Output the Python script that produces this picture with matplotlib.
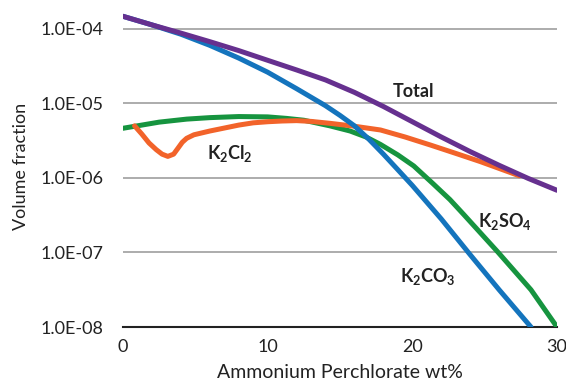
import numpy as np
import matplotlib
matplotlib.use("Agg")
import matplotlib.pyplot as plt
from matplotlib.ticker import FixedLocator, FuncFormatter

plt.rcParams['font.family'] = ['Lato', 'DejaVu Sans']
plt.rcParams['mathtext.default'] = 'regular'

# values (x = wt%, y = volume fraction)
total_x = [0, 2, 4, 6, 8, 10, 12, 14, 16, 18, 20, 22, 24, 26, 28, 30]
total_y = [1.48e-4, 1.135e-4, 8.81e-5, 6.76e-5, 5.13e-5, 3.80e-5, 2.82e-5, 2.07e-5, 1.41e-5, 9.12e-6,
           5.69e-6, 3.55e-6, 2.26e-6, 1.48e-6, 9.89e-7, 6.84e-7]

k2co3_x = [0, 2, 4, 6, 8, 10, 12, 14, 15, 16, 17, 18, 19, 20, 22, 24, 26, 28.2]
k2co3_y = [1.48e-4, 1.135e-4, 8.51e-5, 6.03e-5, 4.07e-5, 2.63e-5, 1.58e-5, 9.33e-6, 6.92e-6, 5.01e-6,
           3.31e-6, 2.09e-6, 1.29e-6, 7.94e-7, 2.82e-7, 9.33e-8, 3.16e-8, 1.0e-8]

k2so4_x = [0, 2.5, 4.4, 6, 8, 10, 11.3, 12.5, 14.3, 15.7, 16.8, 17.8, 19, 20.1, 21.4, 22.6, 23.55, 25.9, 28.2, 30]
k2so4_y = [4.65e-6, 5.62e-6, 6.17e-6, 6.46e-6, 6.68e-6, 6.61e-6, 6.31e-6, 5.96e-6, 5.01e-6, 4.27e-6,
           3.55e-6, 2.82e-6, 2.04e-6, 1.45e-6, 8.5e-7, 5.13e-7, 3.24e-7, 1.02e-7, 3.16e-8, 1.0e-8]

k2cl2_x = [0.8, 1.3, 1.8, 2.3, 2.7, 3.1, 3.5, 3.8, 4.1, 4.4, 4.9, 6, 7, 8, 9, 10, 11, 12, 13,
           14.3, 16, 17.8, 19.5, 21.25, 23, 24.7, 27.4]
k2cl2_y = [5.01e-6, 3.89e-6, 2.95e-6, 2.40e-6, 2.09e-6, 1.95e-6, 2.09e-6, 2.51e-6, 3.02e-6, 3.41e-6,
           3.80e-6, 4.27e-6, 4.68e-6, 5.13e-6, 5.50e-6, 5.69e-6, 5.82e-6, 5.89e-6, 5.75e-6,
           5.42e-6, 4.95e-6, 4.41e-6, 3.55e-6, 2.77e-6, 2.14e-6, 1.66e-6, 1.07e-6]

fig = plt.figure(figsize=(5.66, 3.9), dpi=100)
ax = fig.add_axes([123/566, 63/390, 434/566, 322/390])

lw = 3.6
style = dict(lw=lw, solid_capstyle='round', solid_joinstyle='round')
ax.plot(k2so4_x, k2so4_y, color='#16943f', zorder=3, **style)
ax.plot(k2cl2_x, k2cl2_y, color='#f2632a', zorder=4, **style)
ax.plot(k2co3_x, k2co3_y, color='#1474bd', zorder=5, **style)
ax.plot(total_x, total_y, color='#66308f', zorder=6, **style)

ax.set_yscale('log')
ax.set_xlim(0, 30)
ax.set_ylim(1e-8, 10**-3.678)
ax.yaxis.set_major_locator(FixedLocator([1e-8, 1e-7, 1e-6, 1e-5, 1e-4]))
ax.yaxis.set_minor_locator(FixedLocator([]))
ax.yaxis.set_major_formatter(FuncFormatter(lambda v, p: f"{v:.1E}"))
ax.set_xticks([0, 10, 20, 30])

for v in [1e-7, 1e-6, 1e-5, 1e-4]:
    ax.axhline(v, color='#a6a6a6', lw=1.3, zorder=1)

for s in ['top', 'right', 'left']:
    ax.spines[s].set_visible(False)
ax.spines['bottom'].set_color('#222222')
ax.spines['bottom'].set_linewidth(1.5)
ax.spines['bottom'].set_zorder(2)

ax.tick_params(axis='both', length=0, labelsize=13, colors='#222222')
ax.tick_params(axis='y', pad=14)
ax.tick_params(axis='x', pad=9)
ax.patch.set_alpha(0)

ax.set_xlabel('Ammonium Perchlorate wt%', fontsize=14, color='#222222', labelpad=6)
ax.set_ylabel('Volume fraction', fontsize=13, color='#222222', labelpad=8)

lab = dict(fontsize=13, fontweight='bold', color='#222222', ha='center', va='center')
ax.text(20.1, 10**-4.84, 'Total', **lab)
ax.text(7.4, 10**-5.67, 'K$_2$Cl$_2$', **lab)
ax.text(26.4, 10**-6.58, 'K$_2$SO$_4$', **lab)
ax.text(21.1, 10**-7.32, 'K$_2$CO$_3$', **lab)

fig.savefig('out.png', dpi=100)
